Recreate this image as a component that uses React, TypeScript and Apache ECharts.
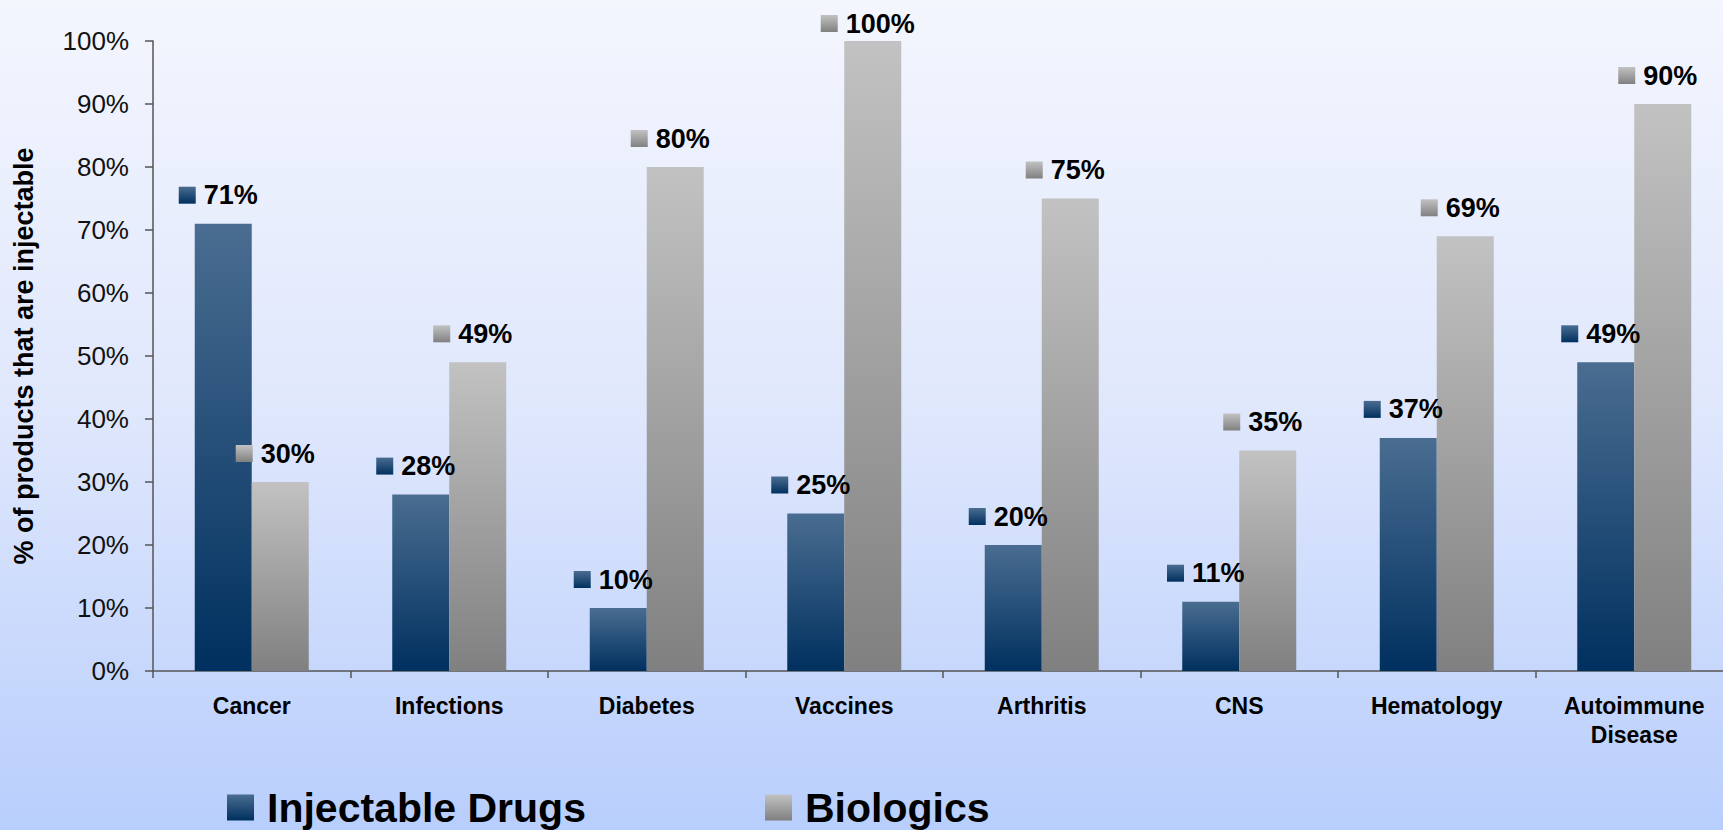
import React, { useEffect, useRef } from "react";
import * as echarts from "echarts";

const categories = ["Cancer", "Infections", "Diabetes", "Vaccines", "Arthritis", "CNS", "Hematology", "Autoimmune\nDisease"];
const injectableDrugs = [71, 28, 10, 25, 20, 11, 37, 49];
const biologics = [30, 49, 80, 100, 75, 35, 69, 90];
const seriesNames = ["Injectable Drugs", "Biologics"];
const yAxisName = "% of products that are injectable";

const FONT = "'Liberation Sans', Arial, sans-serif";

const blueGrad = () =>
  new echarts.graphic.LinearGradient(0, 0, 0, 1, [
    { offset: 0, color: "#4a6d91" },
    { offset: 1, color: "#00305f" },
  ]);
const greyGrad = () =>
  new echarts.graphic.LinearGradient(0, 0, 0, 1, [
    { offset: 0, color: "#c2c2c2" },
    { offset: 1, color: "#808080" },
  ]);

function makeLabel(grad: any) {
  return {
    show: true,
    position: "top",
    distance: 15,
    offset: [-5, 0],
    formatter: (p: any) => `{s| }{t|${p.value}%}`,
    rich: {
      s: { width: 17, height: 17, backgroundColor: grad },
      t: { fontSize: 27, fontWeight: "bold", color: "#000", fontFamily: FONT, padding: [0, 0, 0, 8] },
    },
  };
}

// labels of bars reaching the top of the plot are kept inside the chart area
const withClamp = (arr: number[]) =>
  arr.map((v) => (v >= 100 ? { value: v, label: { distance: 4 } } : v));

export default function App() {
  const ref = useRef<HTMLDivElement>(null);
  useEffect(() => {
    if (!ref.current) return;
    const chart = echarts.init(ref.current, null, { renderer: "svg" });
    const legendBase = {
      top: 782,
      itemWidth: 27,
      itemHeight: 26,
      icon: "rect",
      textStyle: { fontSize: 41, fontWeight: "bold", color: "#000", fontFamily: FONT, padding: [0, 0, 0, 8] },
    };
    chart.setOption({
      animation: false,
      backgroundColor: "transparent",
      textStyle: { fontFamily: FONT },
      grid: { left: 153, right: 0, top: 41, bottom: 159, containLabel: false },
      legend: [
        { ...legendBase, data: [seriesNames[0]], left: 222 },
        { ...legendBase, data: [seriesNames[1]], left: 760 },
      ],
      xAxis: {
        type: "category",
        data: categories,
        axisLine: { show: true, lineStyle: { color: "#555", width: 1.5 } },
        axisTick: { show: true, length: 7, lineStyle: { color: "#555", width: 1.5 } },
        axisLabel: {
          interval: 0,
          margin: 20,
          fontSize: 23,
          fontWeight: "bold",
          color: "#000",
          lineHeight: 29,
          fontFamily: FONT,
        },
        splitLine: { show: false },
      },
      yAxis: {
        type: "value",
        min: 0,
        max: 100,
        interval: 10,
        name: yAxisName,
        nameLocation: "middle",
        nameGap: 116,
        nameTextStyle: { fontSize: 27, fontWeight: "bold", color: "#000", fontFamily: FONT },
        axisLine: { show: true, lineStyle: { color: "#555", width: 1.5 } },
        axisTick: { show: true, length: 8, lineStyle: { color: "#555", width: 1.5 } },
        axisLabel: { formatter: "{value}%", fontSize: 26, color: "#111", margin: 24, fontFamily: FONT },
        splitLine: { show: false },
      },
      series: [
        {
          name: seriesNames[0],
          type: "bar",
          data: withClamp(injectableDrugs),
          barWidth: 57,
          barGap: "0%",
          itemStyle: { color: blueGrad() },
          label: makeLabel(blueGrad()),
        },
        {
          name: seriesNames[1],
          type: "bar",
          data: withClamp(biologics),
          barWidth: 57,
          barGap: "0%",
          itemStyle: { color: greyGrad() },
          label: makeLabel(greyGrad()),
        },
      ],
    });
    return () => chart.dispose();
  }, []);
  return (
    <div
      style={{
        position: "fixed",
        left: 0,
        top: 0,
        width: 1723,
        height: 830,
        overflow: "hidden",
        background: "linear-gradient(to bottom, #f4f6fe 0%, #dfe7fc 50%, #b8cefc 100%)",
      }}
    >
      <div ref={ref} style={{ width: 1733, height: 830 }} />
    </div>
  );
}
